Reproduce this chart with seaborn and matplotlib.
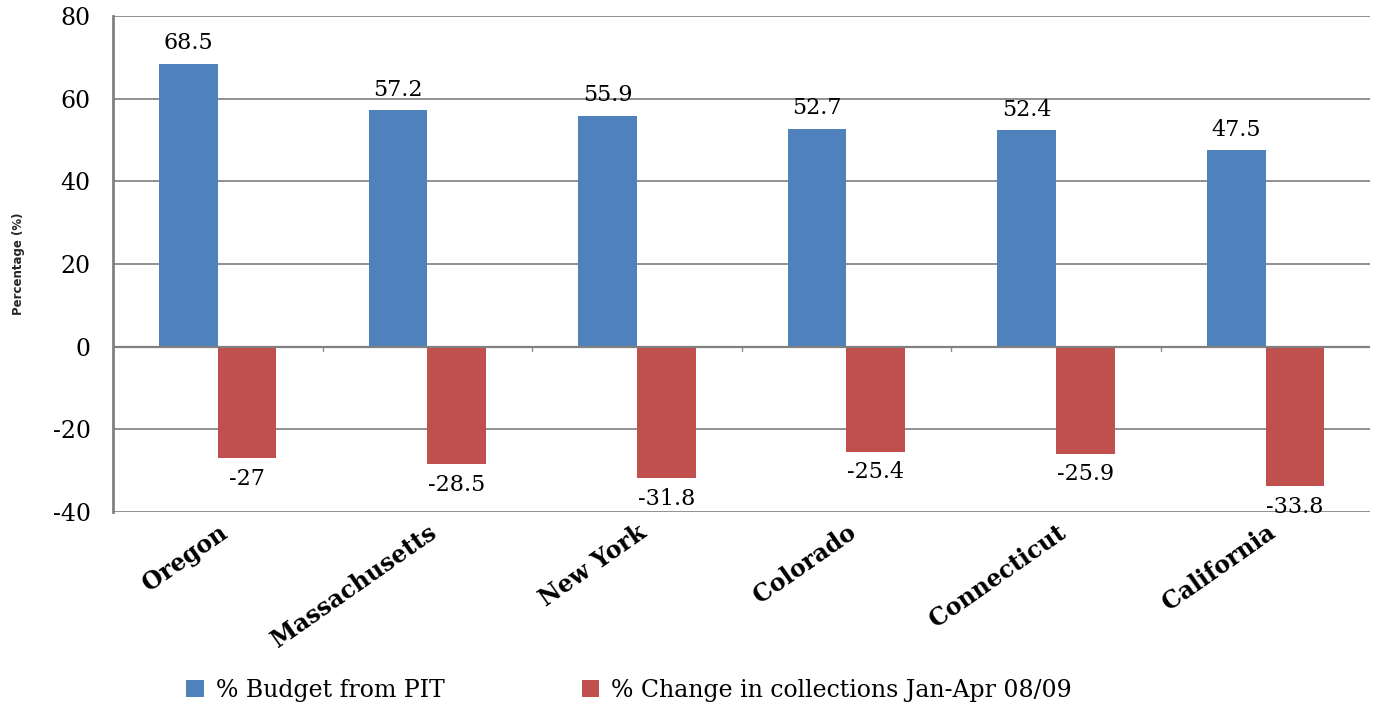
import pandas as pd
import matplotlib
matplotlib.use('Agg')
import matplotlib.pyplot as plt
import seaborn as sns
from matplotlib.patches import Patch

# 数据
states = ['Oregon', 'Massachusetts', 'New York', 'Colorado', 'Connecticut', 'California']
budget_pit = [68.5, 57.2, 55.9, 52.7, 52.4, 47.5]
change_collections = [-27, -28.5, -31.8, -25.4, -25.9, -33.8]
series_names = ['% Budget from PIT', '% Change in collections Jan-Apr 08/09']
colors = ['#4F81BD', '#C0504D']
yticks = [-40, -20, 0, 20, 40, 60, 80]

df = pd.DataFrame({
    'State': states * 2,
    'Series': [series_names[0]] * len(states) + [series_names[1]] * len(states),
    'Value': budget_pit + change_collections,
})

sns.set_style('white')
plt.rcParams['font.family'] = ['DejaVu Serif']
plt.rcParams['axes.unicode_minus'] = False
plt.rcParams['text.color'] = 'black'
plt.rcParams['ytick.labelcolor'] = 'black'
plt.rcParams['xtick.labelcolor'] = 'black'

fig = plt.figure(figsize=(13.87, 7.07), dpi=100)
ax = fig.add_axes([0.0815, 0.276, 0.9065, 0.701])

sns.barplot(data=df, x='State', y='Value', hue='Series', palette=colors,
            width=0.56, saturation=1, ax=ax, legend=False, edgecolor='none')

# 网格线
ax.set_ylim(-40, 80)
ax.set_yticks(yticks)
ax.yaxis.grid(True, color='#888888', linewidth=1.3)
ax.set_axisbelow(True)
ax.axhline(0, color='#808080', linewidth=1.6, zorder=3)

# 类别分隔刻度
for b in range(1, len(states)):
    ax.plot([b - 0.5, b - 0.5], [0, -1.0], color='#8c8c8c', linewidth=1.0,
            clip_on=False, zorder=3)

ax.set_xlim(-0.5, len(states) - 0.5)
for s in ['top', 'right', 'bottom']:
    ax.spines[s].set_visible(False)
ax.spines['left'].set_color('#808080')
ax.spines['left'].set_linewidth(2)

ax.tick_params(axis='y', length=8, width=1.5, color='#808080', labelsize=17, pad=8)
ax.tick_params(axis='x', length=0, pad=6)
ax.set_xticks(range(len(states)))
ax.set_xticklabels(states, rotation=35, ha='right', rotation_mode='anchor',
                   fontsize=17, fontweight='bold')
ax.set_xlabel('')
ax.set_ylabel('Percentage (%)', fontsize=8.5, fontweight='bold',
              family='DejaVu Sans', labelpad=20)

# 数值标签
for c in ax.containers:
    ax.bar_label(c, fmt='%g', padding=7, fontsize=16)

# 图例
handles = [Patch(facecolor=colors[i], edgecolor='none') for i in range(2)]
fig.legend(handles, series_names, loc='center left', bbox_to_anchor=(0.119, 0.024),
           ncol=2, frameon=False, fontsize=17, handlelength=0.75, handleheight=0.75,
           handletextpad=0.5, columnspacing=5.8)

fig.savefig('out.png', dpi=100)
